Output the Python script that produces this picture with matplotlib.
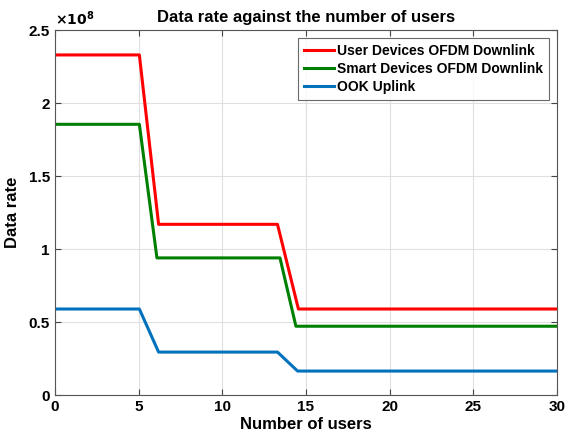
import matplotlib
matplotlib.use("Agg")
import matplotlib.pyplot as plt

plt.rcParams['font.family'] = ['Liberation Sans', 'DejaVu Sans']
plt.rcParams['font.weight'] = 'bold'

x_user = [0, 5.05, 6.2, 13.3, 14.55, 30]
y_user = [2.33, 2.33, 1.17, 1.17, 0.59, 0.59]
x_smart = [0, 5.05, 6.1, 13.45, 14.4, 30]
y_smart = [1.855, 1.855, 0.94, 0.94, 0.472, 0.472]
x_ook = [0, 5.05, 6.2, 13.3, 14.5, 30]
y_ook = [0.59, 0.59, 0.295, 0.295, 0.165, 0.165]
scale = 1e8

labels = ["User Devices OFDM Downlink", "Smart Devices OFDM Downlink", "OOK Uplink"]
colors = ["#ff0000", "#008000", "#0072bd"]

fig = plt.figure(figsize=(5.65, 4.43), dpi=100)
ax = fig.add_axes([0.097, 0.108, 0.889, 0.824])

for xs, ys, lab, c in zip([x_user, x_smart, x_ook], [y_user, y_smart, y_ook], labels, colors):
    ax.plot(xs, [v * scale for v in ys], color=c, lw=2.2, label=lab)

ax.set_xlim(0, 30)
ax.set_ylim(0, 2.5e8)
ax.set_xticks([0, 5, 10, 15, 20, 25, 30])
ax.set_yticks([0, 0.5e8, 1e8, 1.5e8, 2e8, 2.5e8])
ax.set_yticklabels(["0", "0.5", "1", "1.5", "2", "2.5"])
ax.tick_params(direction='in', labelsize=11, color='#444444', length=4,
               top=True, right=True)
for lab in ax.get_xticklabels() + ax.get_yticklabels():
    lab.set_fontweight('bold')
ax.grid(True, color='#e0e0e0', lw=0.8)
for s in ax.spines.values():
    s.set_color('#555555')
    s.set_linewidth(0.8)

ax.set_xlabel("Number of users", fontsize=12, fontweight='bold', labelpad=2)
ax.set_ylabel("Data rate", fontsize=12, fontweight='bold', labelpad=6)
ax.set_title("Data rate against the number of users", fontsize=12, fontweight='bold', pad=6)
ax.text(0.0, 1.005, r"$\times\mathbf{10^{8}}$", transform=ax.transAxes, fontsize=10,
        fontweight='bold', ha='left', va='bottom')

leg = ax.legend(loc='upper right', fontsize=10, frameon=True, fancybox=False,
                edgecolor='#444444', handlelength=2.2, handletextpad=0.2,
                borderaxespad=0.6, labelspacing=0.3, borderpad=0.4)
leg.get_frame().set_linewidth(0.8)
for t in leg.get_texts():
    t.set_fontweight('bold')

fig.savefig("out.png", dpi=100)
